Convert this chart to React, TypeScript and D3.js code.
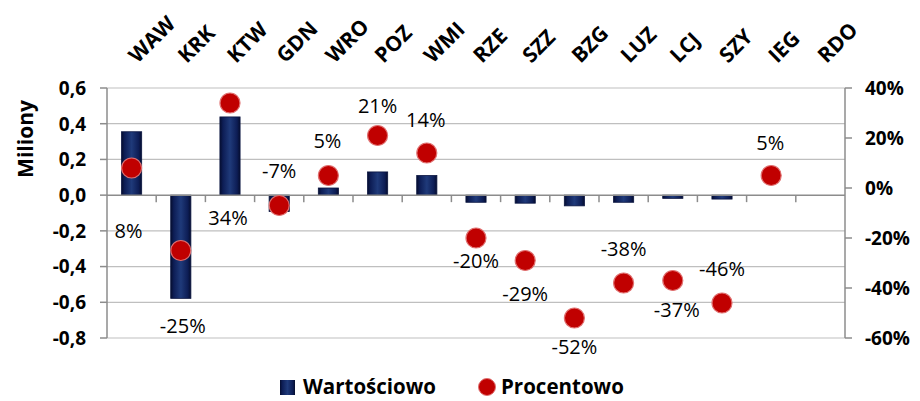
import React from "react";
import * as d3 from "d3";

const categories = ["WAW", "KRK", "KTW", "GDN", "WRO", "POZ", "WMI", "RZE", "SZZ", "BZG", "LUZ", "LCJ", "SZY", "IEG", "RDO"];
// Wartościowo, millions
const values = [0.355, -0.578, 0.438, -0.092, 0.04, 0.13, 0.11, -0.04, -0.045, -0.06, -0.04, -0.018, -0.022, 0, 0];
// Procentowo, percent (null = no point)
const percents: (number | null)[] = [8, -25, 34, -7, 5, 21, 14, -20, -29, -52, -38, -37, -46, 5, null];
const leftTicks = [0.6, 0.4, 0.2, 0, -0.2, -0.4, -0.6, -0.8];
const rightTicks = [40, 20, 0, -20, -40, -60];

// label placement relative to the point (dx, dy)
const labelOffsets: [number, number][] = [
  [-3, 63], [2, 75], [-2, 115], [0, -35], [-1, -35], [0, -30], [-1, -33],
  [0, 23], [0, 33], [0, 29], [0, -34], [4, 29], [0, -34], [-1, -33], [0, 0],
];

const W = 920, H = 401;
const left = 107, right = 845, top = 88, bottom = 338;

export default function App() {
  const x = d3.scaleBand<string>().domain(categories).range([left, right]);
  const y = d3.scaleLinear().domain([-0.8, 0.6]).range([bottom, top]);
  const yr = d3.scaleLinear().domain([-60, 40]).range([bottom, top]);
  const bw = x.bandwidth() * 0.41;
  const fmtL = (v: number) => d3.format(".1f")(v).replace(".", ",").replace("−", "-");
  const font = "'Open Sans', sans-serif";

  return (
    <svg width={W} height={H} style={{ position: "absolute", left: 0, top: 0 }} fontFamily={font}>
      <defs>
        <linearGradient id="barGrad" x1="0" x2="1" y1="0" y2="0">
          <stop offset="0" stopColor="#050d2e" />
          <stop offset="0.15" stopColor="#0d1d55" />
          <stop offset="0.5" stopColor="#1f3a7a" />
          <stop offset="0.85" stopColor="#0d1d55" />
          <stop offset="1" stopColor="#050d2e" />
        </linearGradient>
      </defs>
      <rect width={W} height={H} fill="#fff" />

      {/* gridlines */}
      {leftTicks.filter(t => t !== 0).map(t => (
        <line key={t} x1={left} x2={right} y1={y(t)} y2={y(t)} stroke="#bfbfbf" strokeWidth={1.2} />
      ))}

      {/* left axis */}
      <line x1={left} x2={left} y1={top} y2={bottom} stroke="#8c8c8c" strokeWidth={1.5} />
      {leftTicks.map(t => (
        <g key={t}>
          <line x1={left - 7} x2={left} y1={y(t)} y2={y(t)} stroke="#8c8c8c" strokeWidth={1.5} />
          <text x={86} y={y(t)} dy="0.36em" textAnchor="end" fontSize={19} fontWeight="bold">{fmtL(t)}</text>
        </g>
      ))}
      <text transform={`translate(33,139) rotate(-90)`} textAnchor="middle" fontSize={21} fontWeight="bold">Miliony</text>

      {/* right axis */}
      <line x1={right} x2={right} y1={top} y2={bottom} stroke="#8c8c8c" strokeWidth={1.5} />
      {rightTicks.map(t => (
        <g key={t}>
          <line x1={right} x2={right + 7} y1={yr(t)} y2={yr(t)} stroke="#8c8c8c" strokeWidth={1.5} />
          <text x={865} y={yr(t)} dy="0.36em" textAnchor="start" fontSize={19} fontWeight="bold">{t}%</text>
        </g>
      ))}

      {/* bars */}
      {categories.map((c, i) => {
        const v = values[i];
        if (v === 0) return null;
        const cx = x(c)! + x.bandwidth() / 2;
        const y0 = y(0), y1 = y(v);
        return (
          <rect key={c} x={cx - bw / 2} y={Math.min(y0, y1)} width={bw} height={Math.abs(y1 - y0)}
            fill="url(#barGrad)" stroke="#0a1540" strokeWidth={0.8} />
        );
      })}

      {/* zero line + category ticks */}
      <line x1={left} x2={right} y1={y(0)} y2={y(0)} stroke="#8c8c8c" strokeWidth={1.5} />
      {categories.map((c, i) => (
        <line key={c} x1={x(c)! + x.step()} x2={x(c)! + x.step()} y1={y(0)} y2={y(0) + 7}
          stroke="#8c8c8c" strokeWidth={1.5} opacity={i < categories.length - 1 ? 1 : 0} />
      ))}

      {/* category labels */}
      {categories.map(c => {
        const cx = x(c)! + x.bandwidth() / 2;
        return (
          <text key={c} transform={`translate(${cx + 6},64) rotate(-45)`} fontSize={21} fontWeight="bold">{c}</text>
        );
      })}

      {/* points */}
      {categories.map((c, i) => {
        const p = percents[i];
        if (p === null) return null;
        const cx = x(c)! + x.bandwidth() / 2;
        return (
          <circle key={c} cx={cx} cy={yr(p)} r={10} fill="#c00000" stroke="#e07070" strokeWidth={1.2} />
        );
      })}
      {categories.map((c, i) => {
        const p = percents[i];
        if (p === null) return null;
        const cx = x(c)! + x.bandwidth() / 2;
        const [dx, dy] = labelOffsets[i];
        return (
          <text key={c} x={cx + dx} y={yr(p) + dy} dy="0.36em" textAnchor="middle" fontSize={20}>{p}%</text>
        );
      })}

      {/* legend */}
      <rect x={280} y={380} width={15} height={15} fill="url(#barGrad)" />
      <text x={303} y={387} dy="0.36em" fontSize={20.5} fontWeight="bold">Wartościowo</text>
      <circle cx={487} cy={387} r={8.5} fill="#c00000" stroke="#e07070" strokeWidth={1} />
      <text x={501} y={387} dy="0.36em" fontSize={20.5} fontWeight="bold">Procentowo</text>
    </svg>
  );
}
